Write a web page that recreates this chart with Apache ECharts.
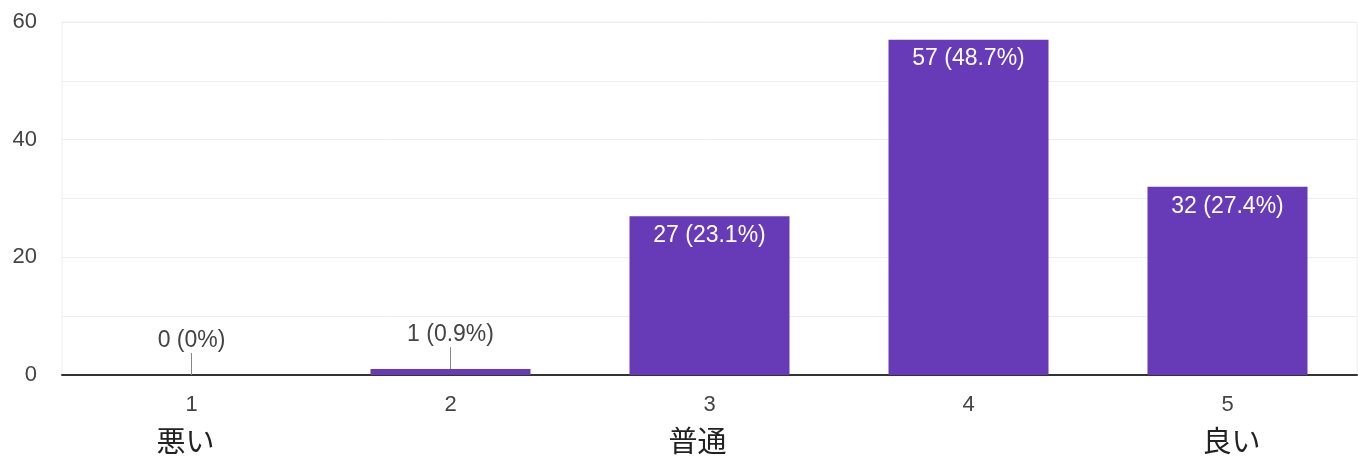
<!DOCTYPE html>
<html><head><meta charset="utf-8">
<script src="https://cdn.jsdelivr.net/npm/echarts@6/dist/echarts.min.js"></script>
<style>html,body{margin:0;padding:0;background:#fff}#c{width:1358px;height:457px}</style>
</head><body><div id="c"></div>
<script>
const categories = ['1', '2', '3', '4', '5'];
const scaleNames = ['悪い', '', '普通', '', '良い'];
const counts = [0, 1, 27, 57, 32];
const percents = ['0%', '0.9%', '23.1%', '48.7%', '27.4%'];
const yTicks = [0, 20, 40, 60];

const SMALL = 5;
const font = '"Liberation Sans", Arial, sans-serif';
const cjk = '"Noto Sans CJK JP", sans-serif';

const barData = counts.map((v, i) => {
  const small = v < SMALL;
  return {
    value: v,
    label: small
      ? { position: 'top', distance: 23, color: '#444' }
      : { position: 'insideTop', distance: 8, color: '#fff' }
  };
});

const chart = echarts.init(document.getElementById('c'), null, { renderer: 'canvas' });
chart.setOption({
  animation: false,
  grid: { left: 62, right: 1, top: 22, bottom: 82, show: true, borderColor: '#eeeeee', borderWidth: 1 },
  xAxis: {
    type: 'category',
    data: categories,
    axisLine: { lineStyle: { color: '#333', width: 2 } },
    axisTick: { show: false },
    axisLabel: {
      margin: 29,
      interval: 0,
      formatter: (val, i) => '{n|' + val + '}\n{j' + i + '|' + (scaleNames[i] || ' ') + '}',
      rich: {
        n: { fontSize: 22, color: '#444', fontFamily: font, lineHeight: 22, padding: [0, 0, 20, 0] },
        j0: { fontSize: 29, color: '#222', fontFamily: cjk, lineHeight: 30, padding: [0, 12, 0, 0] },
        j1: { fontSize: 29, color: '#222', fontFamily: cjk, lineHeight: 30 },
        j2: { fontSize: 29, color: '#222', fontFamily: cjk, lineHeight: 30, padding: [0, 24, 0, 0] },
        j3: { fontSize: 29, color: '#222', fontFamily: cjk, lineHeight: 30 },
        j4: { fontSize: 29, color: '#222', fontFamily: cjk, lineHeight: 30, padding: [0, 0, 0, 8] }
      }
    }
  },
  yAxis: {
    type: 'value',
    min: 0, max: 60, interval: 10,
    axisLine: { show: false },
    axisTick: { show: false },
    splitLine: { lineStyle: { color: '#eeeeee', width: 1 } },
    axisLabel: {
      margin: 25, fontSize: 22, color: '#444', fontFamily: font,
      formatter: v => yTicks.includes(v) ? String(v) : ''
    }
  },
  series: [
    {
      type: 'bar',
      data: barData,
      barWidth: 160,
      itemStyle: { color: '#673AB7' },
      label: {
        show: true, fontSize: 23, fontFamily: font,
        formatter: p => counts[p.dataIndex] + ' (' + percents[p.dataIndex] + ')'
      },
      z: 2
    },
    {
      type: 'custom',
      silent: true,
      z: 3,
      data: counts.map((v, i) => [i, v]),
      renderItem: (params, api) => {
        const v = api.value(1);
        if (v >= SMALL) return null;
        const p = api.coord([api.value(0), v]);
        return {
          type: 'line',
          shape: { x1: p[0], y1: p[1], x2: p[0], y2: p[1] - 22 },
          style: { stroke: '#888', lineWidth: 1 }
        };
      }
    }
  ]
});
</script></body></html>
